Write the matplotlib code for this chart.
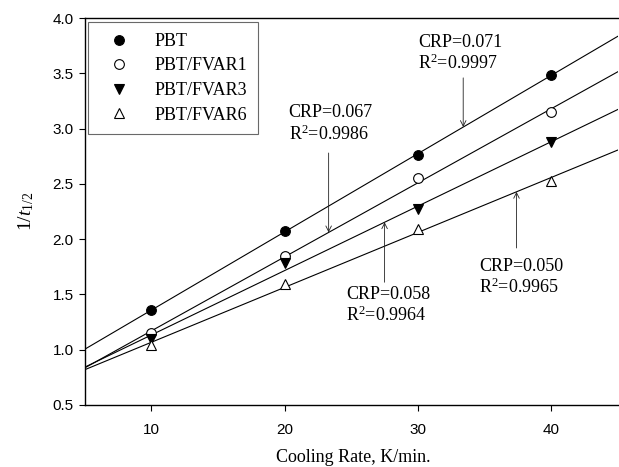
import numpy as np
import matplotlib
matplotlib.use("Agg")
import matplotlib.pyplot as plt
from matplotlib.ticker import FormatStrFormatter

plt.rcParams["font.family"] = ["Liberation Serif", "DejaVu Serif"]
plt.rcParams["mathtext.fontset"] = "custom"
plt.rcParams["mathtext.rm"] = "Liberation Serif"
plt.rcParams["mathtext.it"] = "Liberation Serif:italic"

# data
rates = [10, 20, 30, 40]
series_names = ["PBT", "PBT/FVAR1", "PBT/FVAR3", "PBT/FVAR6"]
pbt = [1.36, 2.07, 2.76, 3.49]
fvar1 = [1.15, 1.85, 2.55, 3.15]
fvar3 = [1.10, 1.78, 2.27, 2.88]
fvar6 = [1.04, 1.59, 2.09, 2.53]
markers = ["o", "o", "v", "^"]
facecolors = ["black", "white", "black", "white"]

crp_labels = ["CRP=0.071\nR$^2$=0.9997", "CRP=0.067\nR$^2$=0.9986",
              "CRP=0.058\nR$^2$=0.9964", "CRP=0.050\nR$^2$=0.9965"]
# arrow x, arrow tail y, text left x, text top y
arrow_x = [33.4, 23.3, 27.5, 37.4]
arrow_tail_y = [3.46, 2.78, 1.61, 1.92]
text_xy = [(30.0, 3.86), (20.3, 3.22), (24.6, 1.58), (34.6, 1.83)]


def main():
    fig = plt.figure(figsize=(6.19, 4.67), dpi=100)
    ax = fig.add_axes([0.137, 0.133, 0.861, 0.828])

    xs = np.array([5, 45])
    fits = []
    for name, ys, m, fc in zip(series_names, [pbt, fvar1, fvar3, fvar6], markers, facecolors):
        k, b = np.polyfit(rates, ys, 1)
        fits.append((k, b))
        ax.plot(xs, k * xs + b, color="black", lw=0.8, zorder=1)
        ax.plot(rates, ys, linestyle="none", marker=m, markersize=7,
                markerfacecolor=fc, markeredgecolor="black", markeredgewidth=0.8,
                label=name, zorder=3)

    for i in range(4):
        k, b = fits[i]
        y0 = k * arrow_x[i] + b
        ax.annotate("", xy=(arrow_x[i], y0), xytext=(arrow_x[i], arrow_tail_y[i]),
                    arrowprops=dict(arrowstyle="->", color="#222222", lw=0.6,
                                    shrinkA=0, shrinkB=0))
        ax.text(text_xy[i][0], text_xy[i][1], crp_labels[i], fontsize=13,
                va="top", ha="left", linespacing=1.2)

    ax.set_xlim(5, 45)
    ax.set_ylim(0.5, 4.0)
    ax.set_xticks([10, 20, 30, 40])
    ax.set_yticks(np.arange(0.5, 4.01, 0.5))
    ax.yaxis.set_major_formatter(FormatStrFormatter("%.1f"))
    for lbl in ax.get_xticklabels() + ax.get_yticklabels():
        lbl.set_fontfamily("Liberation Sans")
        lbl.set_fontsize(11)
    ax.tick_params(direction="out", length=4, width=0.8, pad=4)
    ax.xaxis.set_tick_params(pad=9)
    ax.spines["right"].set_visible(False)
    for s in ["left", "bottom", "top"]:
        ax.spines[s].set_linewidth(1.0)

    ax.set_xlabel("Cooling Rate, K/min.", fontsize=13)
    ax.xaxis.set_label_coords(0.503, -0.115)
    ax.set_ylabel("1/$\\it{t}_{1/2}$", fontsize=14)
    ax.yaxis.set_label_coords(-0.092, 0.5)

    leg = ax.legend(loc="upper left", bbox_to_anchor=(0.006, 0.99), fontsize=13,
                    frameon=True, fancybox=False, edgecolor="#444444",
                    borderpad=0.6, handletextpad=0.9, labelspacing=0.42,
                    handlelength=2.2, borderaxespad=0)
    leg.get_frame().set_linewidth(0.8)

    fig.savefig("out.png", dpi=100)


if __name__ == "__main__":
    main()
